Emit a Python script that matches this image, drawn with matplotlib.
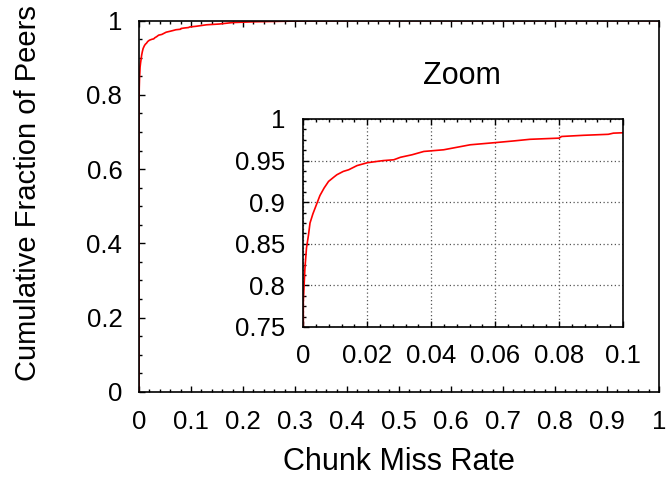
import matplotlib
matplotlib.use("Agg")
import matplotlib.pyplot as plt
from matplotlib.ticker import MultipleLocator

plt.rcParams['font.family'] = ['Liberation Sans', 'DejaVu Sans']

# CDF of chunk miss rate
miss_rate = [0.0, 0.0, 0.0005, 0.001, 0.0016, 0.0021, 0.003, 0.0042, 0.0052,
             0.0065, 0.0079, 0.0095, 0.0105, 0.0125, 0.0142, 0.0168, 0.0201,
             0.025, 0.0283, 0.0304, 0.034, 0.0377, 0.0439, 0.0522, 0.06,
             0.0657, 0.0709, 0.080, 0.0808, 0.0876, 0.0954, 0.097, 0.11,
             0.13, 0.154, 0.18, 0.22, 0.3, 0.45, 1.0]
cdf = [0.0, 0.78, 0.82, 0.845, 0.86, 0.875, 0.886, 0.898, 0.908,
       0.917, 0.925, 0.930, 0.933, 0.937, 0.939, 0.944, 0.9475,
       0.950, 0.951, 0.954, 0.957, 0.961, 0.963, 0.969, 0.9716,
       0.9736, 0.9756, 0.977, 0.979, 0.9804, 0.9816, 0.983, 0.985,
       0.989, 0.991, 0.995, 0.997, 0.999, 1.0, 1.0]

main_xticks = [0, 0.1, 0.2, 0.3, 0.4, 0.5, 0.6, 0.7, 0.8, 0.9, 1]
main_xticklabels = ['0', '0.1', '0.2', '0.3', '0.4', '0.5', '0.6', '0.7', '0.8', '0.9', '1']
main_yticks = [0, 0.2, 0.4, 0.6, 0.8, 1]
main_yticklabels = ['0', '0.2', '0.4', '0.6', '0.8', '1']
inset_xticks = [0, 0.02, 0.04, 0.06, 0.08, 0.1]
inset_xticklabels = ['0', '0.02', '0.04', '0.06', '0.08', '0.1']
inset_yticks = [0.75, 0.8, 0.85, 0.9, 0.95, 1]
inset_yticklabels = ['0.75', '0.8', '0.85', '0.9', '0.95', '1']

W, H = 666, 478
fig = plt.figure(figsize=(W / 100, H / 100), dpi=100)

def box(l, t, r, b):
    return [l / W, 1 - b / H, (r - l) / W, (b - t) / H]

tick_fs = 18.5
label_fs = 22

ax = fig.add_axes(box(139, 20.7, 659, 391.7))
ax.plot(miss_rate, cdf, color='#ff0000', lw=1.2)
ax.set_xlim(0, 1)
ax.set_ylim(0, 1)
ax.set_xticks(main_xticks)
ax.set_xticklabels(main_xticklabels)
ax.set_yticks(main_yticks)
ax.set_yticklabels(main_yticklabels)
ax.xaxis.set_minor_locator(MultipleLocator(0.02))
ax.yaxis.set_minor_locator(MultipleLocator(0.05))
ax.tick_params(which='both', direction='in', top=True, right=False,
               labelsize=tick_fs, width=1.0)
ax.tick_params(which='major', length=4.5)
ax.tick_params(which='minor', length=2.5)
ax.tick_params(axis='x', pad=13)
ax.tick_params(axis='y', pad=12)
for s in ax.spines.values():
    s.set_linewidth(1.2)

fig.text(399 / W, 1 - 462 / H, 'Chunk Miss Rate', ha='center', va='center',
         fontsize=label_fs)
fig.text(28 / W, 1 - 193 / H, 'Cumulative Fraction of Peers', ha='center',
         va='center', rotation=90, fontsize=21)

ins = fig.add_axes(box(303.3, 119, 623, 327))
ins.plot(miss_rate, cdf, color='#ff0000', lw=1.2)
ins.set_xlim(0, 0.1)
ins.set_ylim(0.75, 1)
ins.set_xticks(inset_xticks)
ins.set_xticklabels(inset_xticklabels)
ins.set_yticks(inset_yticks)
ins.set_yticklabels(inset_yticklabels)
ins.xaxis.set_minor_locator(MultipleLocator(0.004))
ins.yaxis.set_minor_locator(MultipleLocator(0.0125))
ins.tick_params(which='both', direction='in', top=True, right=False,
                labelsize=tick_fs, width=1.0)
ins.tick_params(which='major', length=4.5)
ins.tick_params(which='minor', length=2.5)
ins.tick_params(axis='x', pad=12)
ins.tick_params(axis='y', pad=13)
ins.grid(True, which='major', color='#555555', linestyle=(0, (1, 2)), lw=0.9)
for s in ins.spines.values():
    s.set_linewidth(1.2)
fig.text(462 / W, 1 - 76 / H, 'Zoom', ha='center', va='center',
         fontsize=label_fs)

fig.savefig('out.png', dpi=100)
